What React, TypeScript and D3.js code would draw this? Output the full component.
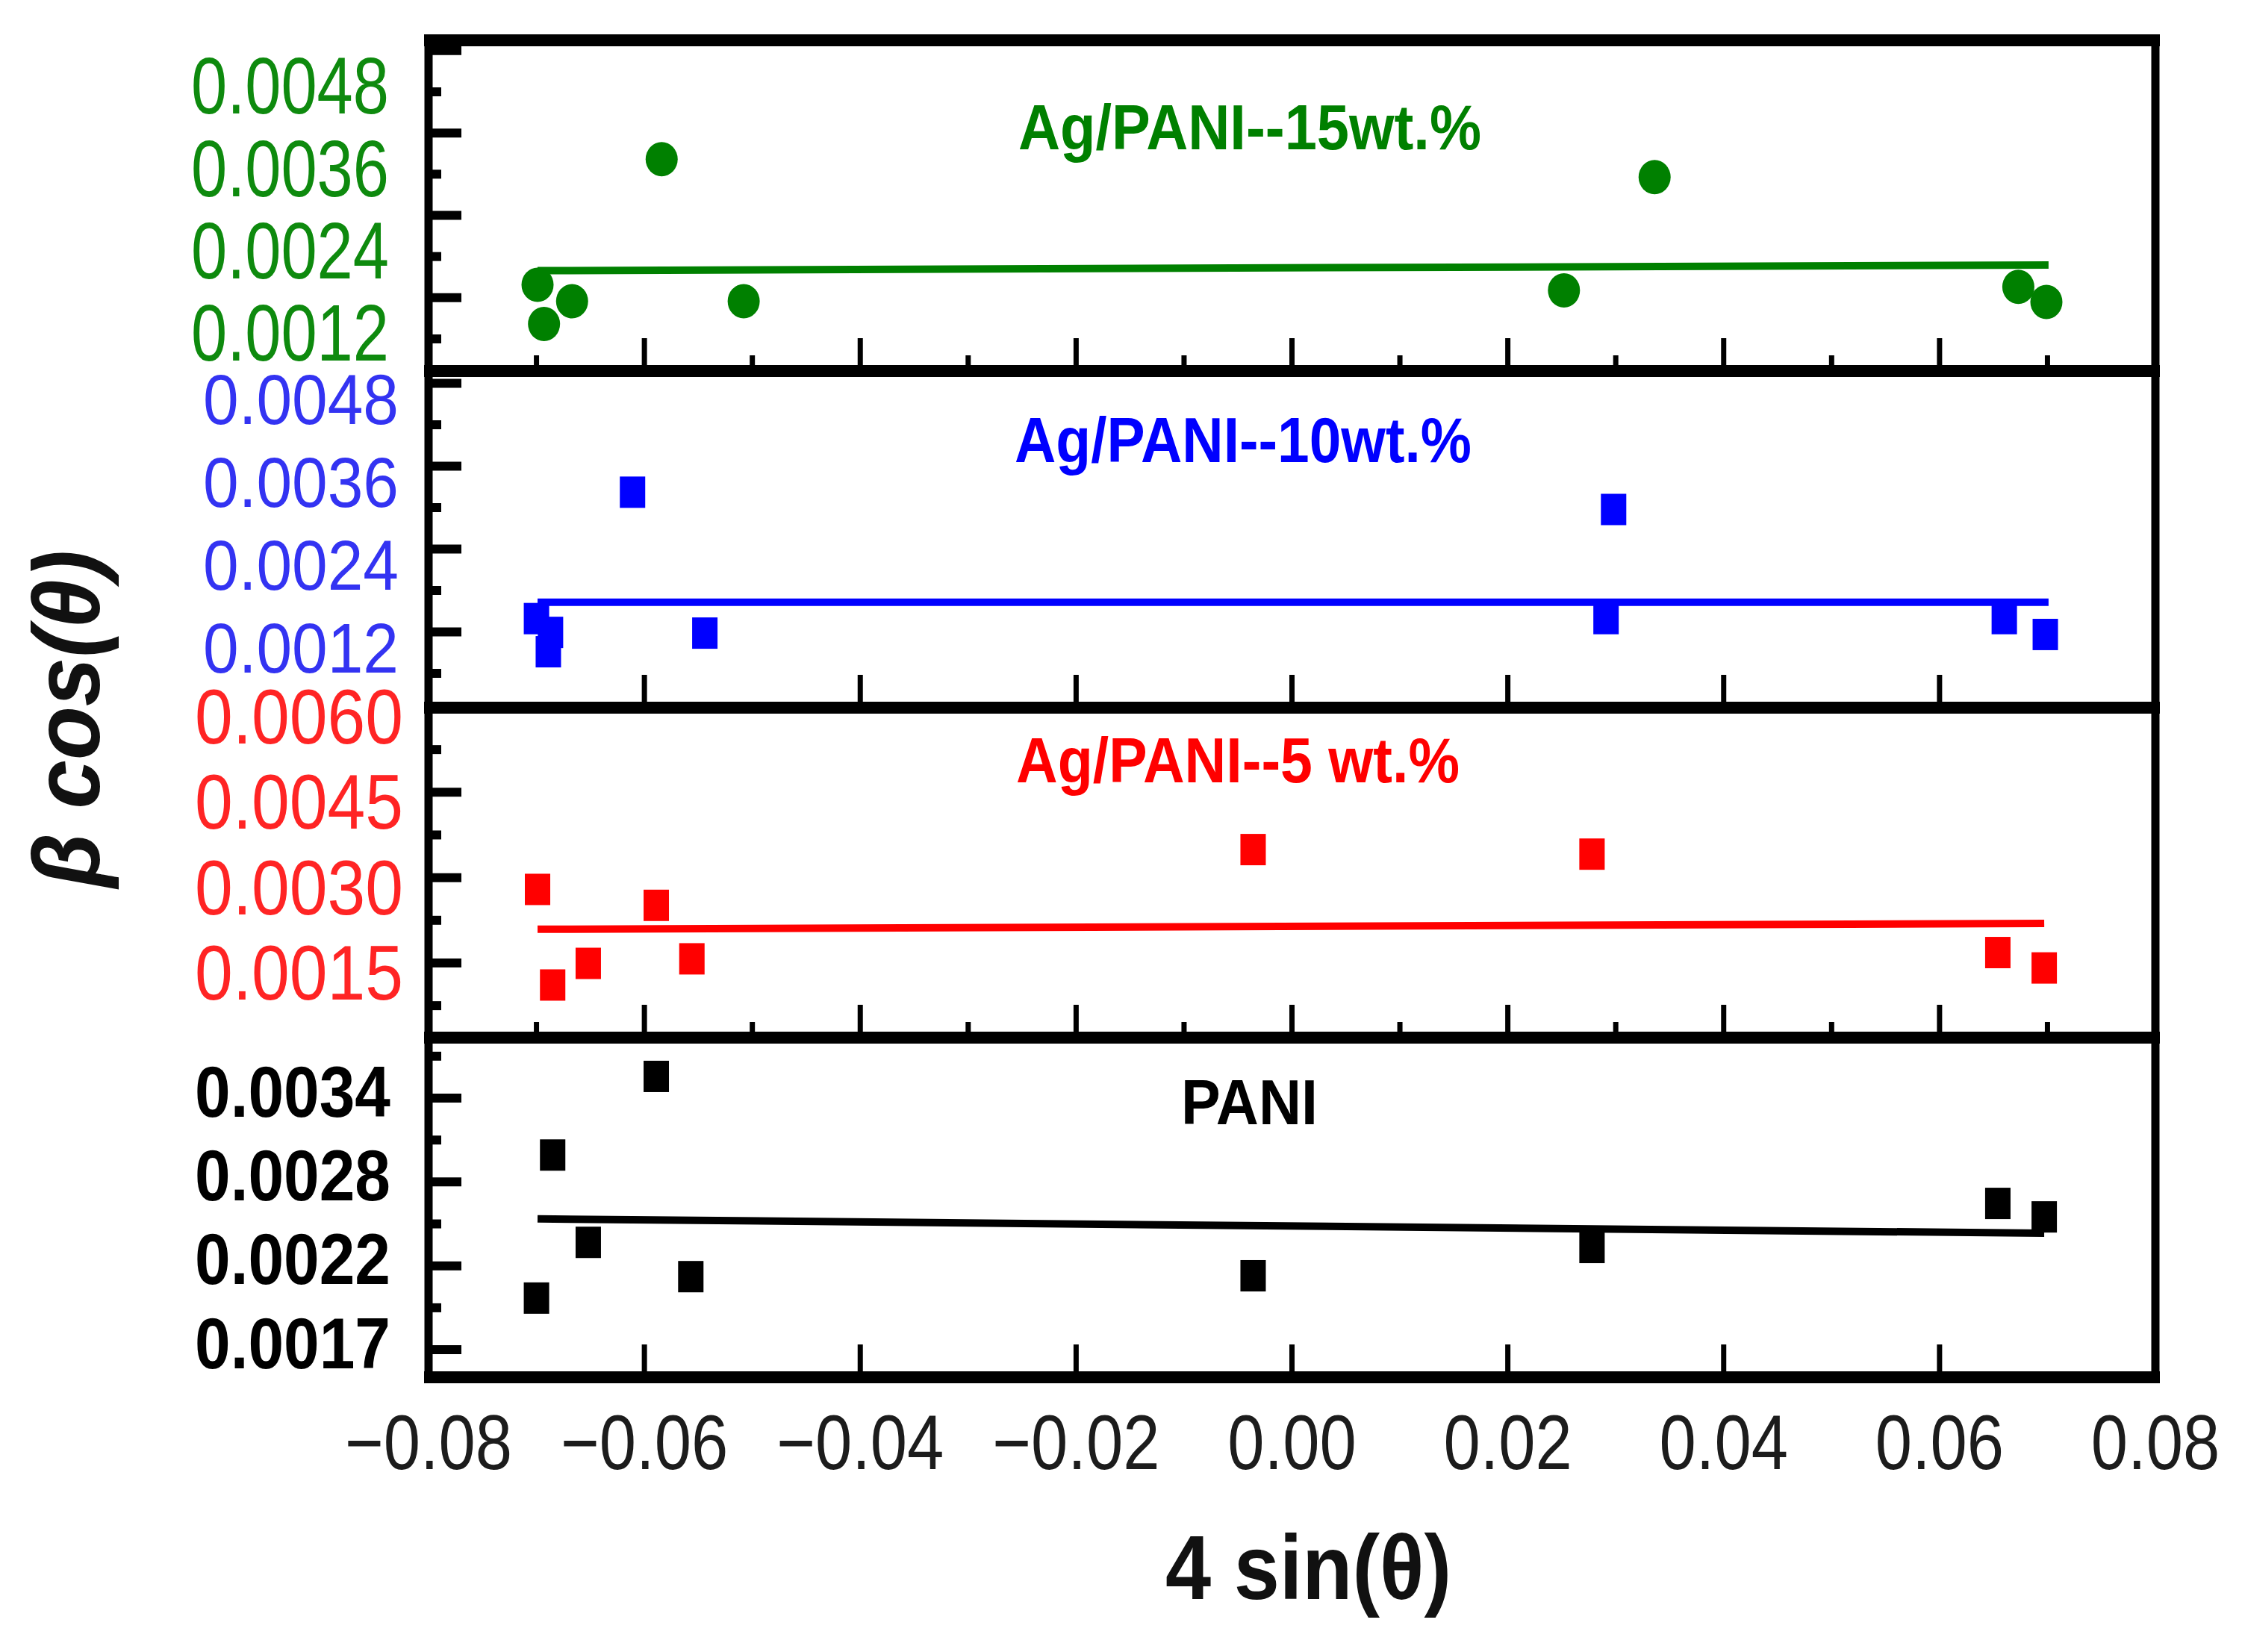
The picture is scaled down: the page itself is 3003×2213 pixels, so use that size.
import { useEffect, useRef } from "react";
import * as d3 from "d3";

// 4 sin(theta) axis
const xTickValues = [-0.08, -0.06, -0.04, -0.02, 0, 0.02, 0.04, 0.06, 0.08];
const xMinorValues = [-0.07, -0.05, -0.03, -0.01, 0.01, 0.03, 0.05, 0.07];

// Ag/PANI--15wt.%
const ag15X = [-0.0699, -0.0693, -0.0667, -0.0584, -0.0508, 0.0252, 0.0336, 0.0673, 0.0699];
const ag15Y = [0.00189, 0.00132, 0.00165, 0.00372, 0.00165, 0.00181, 0.00346, 0.00186, 0.00164];
const ag15Fit = [[-0.0699, 0.002096], [0.0701, 0.002179]];
const ag15Ticks = [0.0012, 0.0024, 0.0036, 0.0048];

// Ag/PANI--10wt.%
const ag10X = [-0.07, -0.0689, -0.0687, -0.0611, -0.0544, 0.0291, 0.0298, 0.066, 0.0698];
const ag10Y = [0.00162, 0.00114, 0.00142, 0.00345, 0.00141, 0.00162, 0.0032, 0.00162, 0.00139];
const ag10Fit = [[-0.0699, 0.001856], [0.0701, 0.001856]];
const ag10Ticks = [0.0012, 0.0024, 0.0036, 0.0048];

// Ag/PANI--5 wt.%
const ag5X = [-0.0699, -0.0685, -0.0652, -0.0589, -0.0556, -0.0036, 0.0278, 0.0654, 0.0697];
const ag5Y = [0.00295, 0.00127, 0.00165, 0.00267, 0.00173, 0.00365, 0.00357, 0.00184, 0.00157];
const ag5Fit = [[-0.0699, 0.00225], [0.0697, 0.002353]];
const ag5Ticks = [0.0015, 0.003, 0.0045, 0.006];

// PANI
const paniX = [-0.07, -0.0685, -0.0652, -0.0589, -0.0557, -0.0036, 0.0278, 0.0654, 0.0697];
const paniY = [0.001975, 0.00293, 0.002347, 0.003455, 0.002118, 0.002124, 0.002313, 0.002607, 0.002517];
const paniFit = [[-0.0699, 0.002504], [0.0697, 0.002408]];
const paniTicks = [0.00168, 0.00224, 0.0028, 0.00336];

const FONT = "'Liberation Sans', Arial, Helvetica, sans-serif";
const LEFT = 574;
const RIGHT = 2887;

const panels = [
  {
    title: "Ag/PANI--15wt.%", color: "#008000", labelColor: "#0e8a0e",
    xs: ag15X, ys: ag15Y, fit: ag15Fit, ticks: ag15Ticks,
    top: 54, bottom: 497, domain: [0.000634, 0.005453], marker: "circle",
    minorX: true, labeledLong: false, tickShift: 9,
    labelRight: 521, labelSize: 107, labelWidth: 265, labelWeight: "normal",
    titleX: 1364, titleY: 200, titleWidth: 620,
  },
  {
    title: "Ag/PANI--10wt.%", color: "#0000ff", labelColor: "#3333f2",
    xs: ag10X, ys: ag10Y, fit: ag10Fit, ticks: ag10Ticks,
    top: 497, bottom: 948, domain: [0.00033, 0.005205], marker: "square",
    minorX: false, labeledLong: true, tickShift: -21,
    labelRight: 534, labelSize: 94, labelWidth: 262, labelWeight: "normal",
    titleX: 1359, titleY: 619, titleWidth: 612,
  },
  {
    title: "Ag/PANI--5 wt.%", color: "#ff0000", labelColor: "#ff2424",
    xs: ag5X, ys: ag5Y, fit: ag5Fit, ticks: ag5Ticks,
    top: 948, bottom: 1390, domain: [0.000345, 0.006144], marker: "square",
    minorX: true, labeledLong: true, tickShift: -12,
    labelRight: 540, labelSize: 103, labelWidth: 279, labelWeight: "normal",
    titleX: 1361, titleY: 1048, titleWidth: 594,
  },
  {
    title: "PANI", color: "#000000", labelColor: "#000000",
    xs: paniX, ys: paniY, fit: paniFit, ticks: paniTicks,
    top: 1390, bottom: 1845, domain: [0.001446, 0.003714], marker: "square",
    minorX: false, labeledLong: true, tickShift: 10,
    labelRight: 523, labelSize: 97, labelWidth: 262, labelWeight: "bold",
    titleX: 1582, titleY: 1506, titleWidth: 183,
  },
];

export default function App() {
  const svgRef = useRef<SVGSVGElement>(null);

  useEffect(() => {
    if (!svgRef.current) return;
    const svg = d3.select(svgRef.current);
    svg.selectAll("*").remove();

    const x = d3.scaleLinear().domain([-0.08, 0.08]).range([LEFT, RIGHT]);

    panels.forEach((p) => {
      const y = d3.scaleLinear().domain(p.domain).range([p.bottom, p.top]);
      const g = svg.append("g");

      // y ticks (labelled steps plus half steps), drawn inward
      const step = p.ticks[1] - p.ticks[0];
      const yTicks = d3
        .range(-6, 14)
        .map((k) => ({ v: p.ticks[0] + (k * step) / 2, labeled: k % 2 === 0 }))
        .map((d) => ({ ...d, pos: y(d.v) + p.tickShift }))
        .filter((d) => d.pos >= p.top - 2 && d.pos <= p.bottom + 2);

      g.selectAll(".ytick")
        .data(yTicks)
        .join("line")
        .attr("x1", LEFT)
        .attr("x2", (d) => LEFT + ((d.labeled === p.labeledLong) ? 44 : 17))
        .attr("y1", (d) => d.pos)
        .attr("y2", (d) => d.pos)
        .attr("stroke", "#000")
        .attr("stroke-width", 12);

      // x ticks along the bottom of the panel
      const majors = xTickValues.filter((v) => v > -0.08 && v < 0.08);
      g.selectAll(".xmajor")
        .data(majors)
        .join("line")
        .attr("x1", (d) => x(d))
        .attr("x2", (d) => x(d))
        .attr("y1", p.bottom)
        .attr("y2", p.bottom - 44)
        .attr("stroke", "#000")
        .attr("stroke-width", 7);
      if (p.minorX) {
        g.selectAll(".xminor")
          .data(xMinorValues)
          .join("line")
          .attr("x1", (d) => x(d))
          .attr("x2", (d) => x(d))
          .attr("y1", p.bottom)
          .attr("y2", p.bottom - 21)
          .attr("stroke", "#000")
          .attr("stroke-width", 7);
      }

      // fitted line
      const line = d3
        .line<number[]>()
        .x((d) => x(d[0]))
        .y((d) => y(d[1]));
      g.append("path")
        .attr("d", line(p.fit))
        .attr("fill", "none")
        .attr("stroke", p.color)
        .attr("stroke-width", 10);

      // markers
      const pts = p.xs.map((v, i) => [v, p.ys[i]]);
      if (p.marker === "circle") {
        g.selectAll(".pt")
          .data(pts)
          .join("ellipse")
          .attr("cx", (d) => x(d[0]))
          .attr("cy", (d) => y(d[1]))
          .attr("rx", 21.5)
          .attr("ry", 23)
          .attr("fill", p.color);
      } else {
        g.selectAll(".pt")
          .data(pts)
          .join("rect")
          .attr("x", (d) => x(d[0]) - 17)
          .attr("y", (d) => y(d[1]) - 21)
          .attr("width", 34)
          .attr("height", 42)
          .attr("fill", p.color);
      }

      // y tick labels
      const digitH = 0.716 * p.labelSize;
      g.selectAll(".ylabel")
        .data(p.ticks)
        .join("text")
        .attr("x", p.labelRight)
        .attr("y", (d) => y(d) + digitH / 2)
        .attr("text-anchor", "end")
        .attr("fill", p.labelColor)
        .attr("font-family", FONT)
        .attr("font-weight", p.labelWeight)
        .attr("font-size", p.labelSize)
        .attr("textLength", p.labelWidth)
        .attr("lengthAdjust", "spacingAndGlyphs")
        .text((d) => d.toFixed(4));

      // panel title
      g.append("text")
        .attr("x", p.titleX)
        .attr("y", p.titleY)
        .attr("fill", p.color)
        .attr("font-family", FONT)
        .attr("font-weight", "bold")
        .attr("font-size", 86)
        .attr("textLength", p.titleWidth)
        .attr("lengthAdjust", "spacingAndGlyphs")
        .text(p.title);
    });

    // frame and panel dividers
    const hLines = [54, 497, 948, 1390, 1845];
    svg.selectAll(".hline")
      .data(hLines)
      .join("line")
      .attr("x1", LEFT - 6)
      .attr("x2", RIGHT + 6)
      .attr("y1", (d) => d)
      .attr("y2", (d) => d)
      .attr("stroke", "#000")
      .attr("stroke-width", 16);
    svg.selectAll(".vline")
      .data([LEFT, RIGHT])
      .join("line")
      .attr("x1", (d) => d)
      .attr("x2", (d) => d)
      .attr("y1", 46)
      .attr("y2", 1853)
      .attr("stroke", "#000")
      .attr("stroke-width", 11);

    // x tick labels
    const fmt = d3.format(".2f");
    svg.selectAll(".xlabel")
      .data(xTickValues)
      .join("text")
      .attr("transform", (d) => `translate(${x(d)},1968) scale(0.86,1)`)
      .attr("text-anchor", "middle")
      .attr("fill", "#1c1c1c")
      .attr("font-family", FONT)
      .attr("font-size", 103)
      .text((d) => fmt(d));

    // axis titles
    svg.append("text")
      .attr("x", 1561)
      .attr("y", 2142)
      .attr("fill", "#111")
      .attr("font-family", FONT)
      .attr("font-weight", "bold")
      .attr("font-size", 123)
      .attr("textLength", 383)
      .attr("lengthAdjust", "spacingAndGlyphs")
      .text("4 sin(θ)");

    svg.append("text")
      .attr("transform", "translate(133,963) rotate(-90)")
      .attr("text-anchor", "middle")
      .attr("fill", "#111")
      .attr("font-family", FONT)
      .attr("font-weight", "bold")
      .attr("font-style", "italic")
      .attr("font-size", 126)
      .attr("textLength", 452)
      .attr("lengthAdjust", "spacingAndGlyphs")
      .text("β cos(θ)");
  }, []);

  return (
    <svg
      ref={svgRef}
      width={3003}
      height={2213}
      viewBox="0 0 3003 2213"
      style={{ position: "absolute", left: 0, top: 0, background: "#fff" }}
    />
  );
}
